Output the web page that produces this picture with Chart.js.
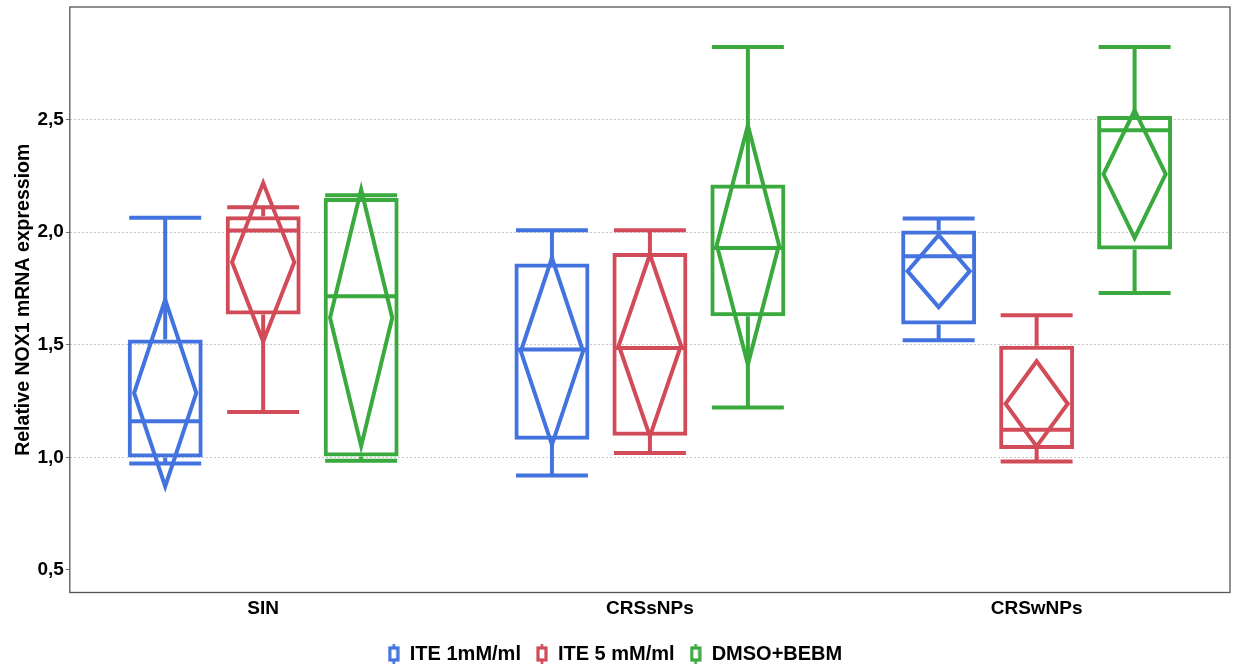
<!DOCTYPE html>
<html>
<head>
<meta charset="utf-8">
<script src="https://cdn.jsdelivr.net/npm/chart.js@4"></script>
<style>
html,body{margin:0;padding:0;background:#fff;}
#wrap{width:1237px;height:668px;position:relative;}
</style>
</head>
<body>
<div id="wrap"><canvas id="c" width="1237" height="668"></canvas></div>
<script>
const categories = ['SIN', 'CRSsNPs', 'CRSwNPs'];
const seriesNames = ['ITE 1mM/ml', 'ITE 5 mM/ml', 'DMSO+BEBM'];
const seriesColors = ['rgb(67,115,222)', 'rgb(210,75,89)', 'rgb(58,170,62)'];
const yTicks = [0.5, 1.0, 1.5, 2.0, 2.5];

const ite1Low    = [0.973, 0.92, 1.52];
const ite1Q1     = [1.00, 1.078, 1.59];
const ite1Median = [1.16, 1.479, 1.893];
const ite1Q3     = [1.523, 1.861, 2.007];
const ite1High   = [2.064, 2.009, 2.061];
const ite1Mean   = [1.286, 1.471, 1.827];
const ite1Ci     = [0.415, 0.415, 0.16];

const ite5Low    = [1.201, 1.019, 0.982];
const ite5Q1     = [1.634, 1.096, 1.037];
const ite5Median = [2.007, 1.486, 1.123];
const ite5Q3     = [2.071, 1.908, 1.496];
const ite5High   = [2.111, 2.009, 1.631];
const ite5Mean   = [1.867, 1.497, 1.238];
const ite5Ci     = [0.352, 0.404, 0.189];

const dmsoLow    = [0.985, 1.222, 1.73];
const dmsoQ1     = [1.004, 1.627, 1.923];
const dmsoMedian = [1.716, 1.93, 2.453];
const dmsoQ3     = [2.152, 2.212, 2.516];
const dmsoHigh   = [2.164, 2.822, 2.822];
const dmsoMean   = [1.62, 1.943, 2.258];
const dmsoCi     = [0.57, 0.531, 0.283];

const stats = [
  {low: ite1Low, q1: ite1Q1, med: ite1Median, q3: ite1Q3, high: ite1High, mean: ite1Mean, ci: ite1Ci},
  {low: ite5Low, q1: ite5Q1, med: ite5Median, q3: ite5Q3, high: ite5High, mean: ite5Mean, ci: ite5Ci},
  {low: dmsoLow, q1: dmsoQ1, med: dmsoMedian, q3: dmsoQ3, high: dmsoHigh, mean: dmsoMean, ci: dmsoCi}
];

function legendIcon(color) {
  const cv = document.createElement('canvas');
  cv.width = 12; cv.height = 22;
  const g = cv.getContext('2d');
  g.strokeStyle = color; g.lineWidth = 3.2;
  g.strokeRect(2, 5, 8, 12);
  g.lineWidth = 2.6;
  g.beginPath();
  g.moveTo(6, 1); g.lineTo(6, 5);
  g.moveTo(6, 17); g.lineTo(6, 21);
  g.stroke();
  return cv;
}

const boxPlugin = {
  id: 'boxExtras',
  afterDatasetsDraw(chart) {
    const ctx = chart.ctx;
    const y = chart.scales.y;
    ctx.save();
    chart.data.datasets.forEach((ds, di) => {
      const meta = chart.getDatasetMeta(di);
      const s = stats[di];
      ctx.strokeStyle = seriesColors[di];
      ctx.lineWidth = 4;
      ctx.lineJoin = 'miter';
      meta.data.forEach((bar, i) => {
        const cx = bar.x;
        const w = bar.width;
        const yLow = y.getPixelForValue(s.low[i]);
        const yHigh = y.getPixelForValue(s.high[i]);
        const yQ1 = y.getPixelForValue(s.q1[i]);
        const yQ3 = y.getPixelForValue(s.q3[i]);
        const yMed = y.getPixelForValue(s.med[i]);
        const capHalf = w * 0.48;
        ctx.beginPath();
        ctx.moveTo(cx, yQ3); ctx.lineTo(cx, yHigh);
        ctx.moveTo(cx - capHalf, yHigh); ctx.lineTo(cx + capHalf, yHigh);
        ctx.moveTo(cx, yQ1); ctx.lineTo(cx, yLow);
        ctx.moveTo(cx - capHalf, yLow); ctx.lineTo(cx + capHalf, yLow);
        ctx.moveTo(bar.x - w / 2 + 2, yMed); ctx.lineTo(bar.x + w / 2 - 2, yMed);
        ctx.stroke();
        const dHalf = w * 0.415;
        const yM = y.getPixelForValue(s.mean[i]);
        const yT = y.getPixelForValue(s.mean[i] + s.ci[i]);
        const yB = y.getPixelForValue(s.mean[i] - s.ci[i]);
        ctx.beginPath();
        ctx.moveTo(cx, yT);
        ctx.lineTo(cx + dHalf, yM);
        ctx.lineTo(cx, yB);
        ctx.lineTo(cx - dHalf, yM);
        ctx.closePath();
        ctx.stroke();
      });
    });
    ctx.restore();
  },
  afterDraw(chart) {
    const a = chart.chartArea;
    const ctx = chart.ctx;
    ctx.save();
    ctx.strokeStyle = '#555';
    ctx.lineWidth = 1.3;
    ctx.strokeRect(a.left, a.top, a.right - a.left, a.bottom - a.top);
    ctx.restore();
  }
};

const datasets = seriesNames.map((name, di) => ({
  label: name,
  data: categories.map((c, i) => [stats[di].q1[i], stats[di].q3[i]]),
  backgroundColor: 'rgba(0,0,0,0)',
  borderColor: seriesColors[di],
  borderWidth: 4,
  borderSkipped: false,
  pointStyle: legendIcon(seriesColors[di]),
  categoryPercentage: 0.76,
  barPercentage: 0.765
}));

const FONT = '"Liberation Sans", Arial, Helvetica, sans-serif';

new Chart(document.getElementById('c'), {
  type: 'bar',
  data: {labels: categories, datasets},
  plugins: [boxPlugin],
  options: {
    responsive: false,
    animation: false,
    layout: {padding: {top: 7, right: 7, left: 0, bottom: -6}},
    plugins: {
      tooltip: {enabled: false},
      legend: {
        position: 'bottom',
        labels: {
          usePointStyle: true,
          boxWidth: 12,
          color: '#000',
          font: {family: FONT, size: 20, weight: 'bold'},
          padding: 15
        }
      }
    },
    scales: {
      x: {
        grid: {display: false},
        border: {display: false},
        ticks: {color: '#000', font: {family: FONT, size: 19, weight: 'bold'}, padding: -3},
        afterFit(scale) { scale.height = 36.5; }
      },
      y: {
        min: 0.4,
        max: 3.0,
        afterBuildTicks(scale) { scale.ticks = yTicks.map(v => ({value: v})); },
        afterFit(scale) { scale.paddingTop = 0; scale.paddingBottom = 0; },
        border: {display: false, dash: [2, 2]},
        grid: {
          color: ctx => (ctx.tick && ctx.tick.value === 0.5) ? 'rgba(0,0,0,0)' : '#c8c8c8',
          lineWidth: 1,
          drawTicks: true,
          tickLength: 4,
          tickColor: '#777',
          tickBorderDash: [0, 0]
        },
        ticks: {
          color: '#000',
          font: {family: FONT, size: 19, weight: 'bold'},
          padding: 2,
          callback: v => Number(v).toFixed(1).replace('.', ',')
        },
        title: {
          display: true,
          text: 'Relative NOX1 mRNA expressiom',
          color: '#000',
          font: {family: FONT, size: 19.5, weight: 'bold'},
          padding: {top: 12, bottom: 0}
        }
      }
    }
  }
});
</script>
</body>
</html>
